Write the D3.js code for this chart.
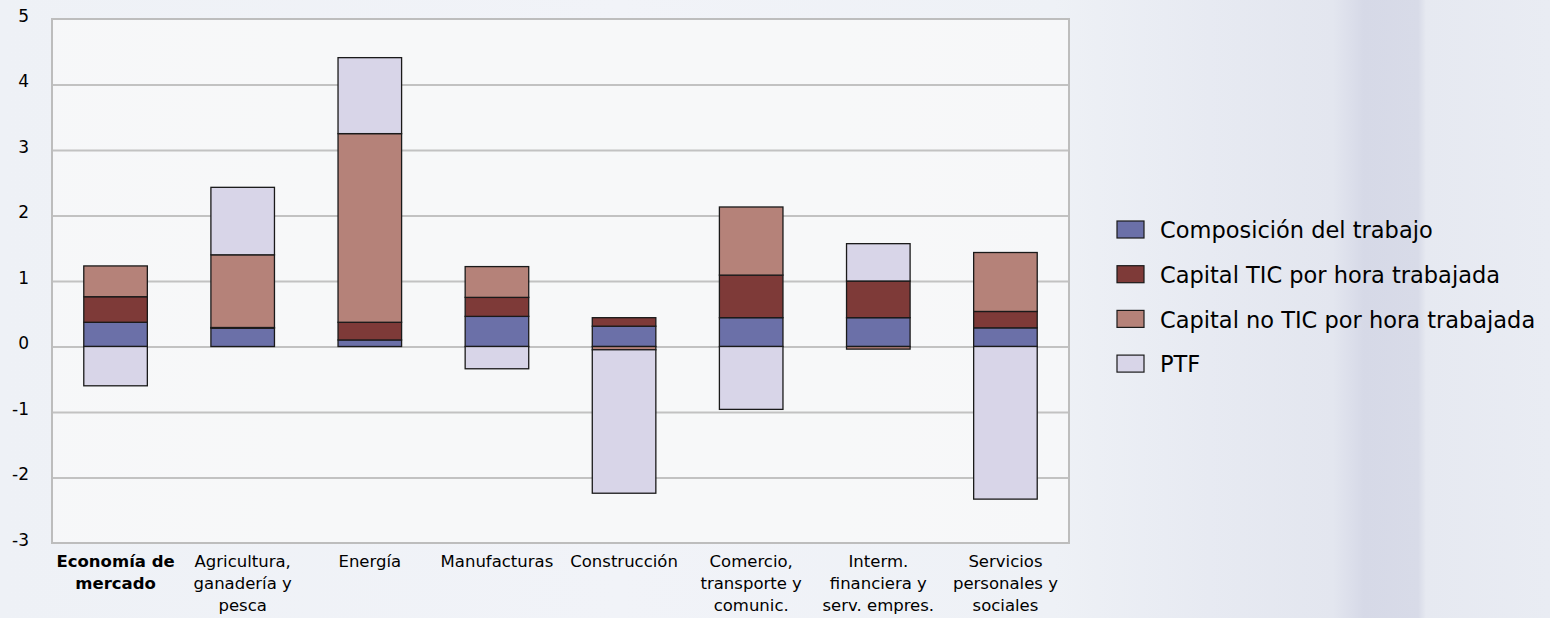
<!DOCTYPE html>
<html>
<head>
<meta charset="utf-8">
<script src="https://cdn.jsdelivr.net/npm/d3@7"></script>
<style>
  html, body { margin: 0; padding: 0; }
  body {
    width: 1550px; height: 618px; overflow: hidden;
    background: linear-gradient(to right, #eef1f6 0%, #f1f3f8 40%, #eef1f6 68%, #e7eaf2 78%, #e3e6ef 86%, #d6d9e7 88%, #d8dbe8 91.5%, #e6e9f1 92%, #e9ecf3 100%);
    font-family: "DejaVu Sans", sans-serif;
  }
  svg { display: block; }
</style>
</head>
<body>
<svg id="chart" width="1550" height="618"></svg>
<script>
// ---- data ----
const categories = [
  "Economía de mercado",
  "Agricultura, ganadería y pesca",
  "Energía",
  "Manufacturas",
  "Construcción",
  "Comercio, transporte y comunic.",
  "Interm. financiera y serv. empres.",
  "Servicios personales y sociales"
];
const categoryLines = [
  ["Economía de", "mercado"],
  ["Agricultura,", "ganadería y", "pesca"],
  ["Energía"],
  ["Manufacturas"],
  ["Construcción"],
  ["Comercio,", "transporte y", "comunic."],
  ["Interm.", "financiera y", "serv. empres."],
  ["Servicios", "personales y", "sociales"]
];
const seriesNames = [
  "Composición del trabajo",
  "Capital TIC por hora trabajada",
  "Capital no TIC por hora trabajada",
  "PTF"
];
const composicion  = [0.37, 0.28, 0.10, 0.46, 0.31, 0.44, 0.44, 0.285];
const capitalTIC   = [0.39, 0.01, 0.27, 0.29, 0.13, 0.65, 0.56, 0.25];
const capitalNoTIC = [0.47, 1.11, 2.88, 0.47, -0.05, 1.04, -0.04, 0.90];
const ptf          = [-0.60, 1.03, 1.16, -0.34, -2.19, -0.96, 0.57, -2.33];
const yTicks = [-3, -2, -1, 0, 1, 2, 3, 4, 5];

// ---- styles ----
const colors = ["#6b70a8", "#7e3a38", "#b58279", "#d8d5e8"];

const svg = d3.select("#chart");
const plot = { left: 52, right: 1069, top: 19, bottom: 543 };

const table = categories.map((c, i) => ({
  cat: c,
  [seriesNames[0]]: composicion[i],
  [seriesNames[1]]: capitalTIC[i],
  [seriesNames[2]]: capitalNoTIC[i],
  [seriesNames[3]]: ptf[i]
}));

const x = d3.scaleBand().domain(categories).range([plot.left, plot.right])
  .paddingInner(0.5).paddingOuter(0.25);
const y = d3.scaleLinear().domain([-3, 5]).range([plot.bottom, plot.top]);

// plot background
svg.append("rect")
  .attr("x", plot.left).attr("y", plot.top)
  .attr("width", plot.right - plot.left).attr("height", plot.bottom - plot.top)
  .attr("fill", "rgba(250,250,250,0.72)");

// gridlines
const grid = svg.append("g").attr("transform", `translate(${plot.left},0)`)
  .call(d3.axisLeft(y).tickValues(yTicks.filter(t => t > -3 && t < 5))
    .tickSize(-(plot.right - plot.left)).tickFormat(""));
grid.select(".domain").remove();
grid.selectAll("line").attr("stroke", "#c2c2c2").attr("stroke-width", 2);

// frame
svg.append("rect")
  .attr("x", plot.left).attr("y", plot.top)
  .attr("width", plot.right - plot.left).attr("height", plot.bottom - plot.top)
  .attr("fill", "none").attr("stroke", "#bdbdbd").attr("stroke-width", 2);

// y tick labels
const yAxis = svg.append("g").attr("transform", `translate(${plot.left},0)`)
  .call(d3.axisLeft(y).tickValues(yTicks).tickSize(0).tickPadding(23).tickFormat(d => String(d)));
yAxis.select(".domain").remove();
yAxis.selectAll("text")
  .attr("dy", "0.14em")
  .attr("fill", "#000")
  .style("font-family", "'DejaVu Sans',sans-serif")
  .style("font-size", "17px");

// stacked bars
const stack = d3.stack().keys(seriesNames).offset(d3.stackOffsetDiverging);
const layers = stack(table);

svg.append("g").selectAll("g").data(layers).join("g")
  .attr("fill", (d, i) => colors[i])
  .selectAll("rect").data(d => d).join("rect")
  .attr("x", d => x(d.data.cat))
  .attr("width", x.bandwidth())
  .attr("y", d => y(Math.max(d[0], d[1])))
  .attr("height", d => Math.abs(y(d[0]) - y(d[1])))
  .attr("stroke", "#1a1a1a")
  .attr("stroke-width", 1.3);

// category labels
const xAxis = svg.append("g").attr("transform", `translate(0,${plot.bottom})`)
  .call(d3.axisBottom(x).tickSize(0).tickFormat(""));
xAxis.select(".domain").remove();
xAxis.selectAll(".tick").each(function(d, i) {
  const t = d3.select(this).append("text")
    .attr("text-anchor", "middle")
    .attr("fill", "#000")
    .style("font-family", "'DejaVu Sans',sans-serif")
    .style("font-size", "16.5px")
    .style("font-weight", i === 0 ? "bold" : "normal");
  categoryLines[i].forEach((line, k) => {
    t.append("tspan").attr("x", 0).attr("y", 24 + k * 22).text(line);
  });
});

// legend
const legend = svg.append("g").attr("transform", "translate(1117,230)");
const item = legend.selectAll("g").data(seriesNames).join("g")
  .attr("transform", (d, i) => `translate(0,${i * 44.7})`);
item.append("rect")
  .attr("x", 0).attr("y", -9).attr("width", 27).attr("height", 17)
  .attr("fill", (d, i) => colors[i])
  .attr("stroke", "#1a1a1a").attr("stroke-width", 1.2);
item.append("text")
  .attr("x", 43).attr("y", 0).attr("dy", "0.36em")
  .attr("fill", "#000")
  .style("font-family", "'DejaVu Sans',sans-serif")
  .style("font-size", "22.5px")
  .text(d => d);
</script>
</body>
</html>
